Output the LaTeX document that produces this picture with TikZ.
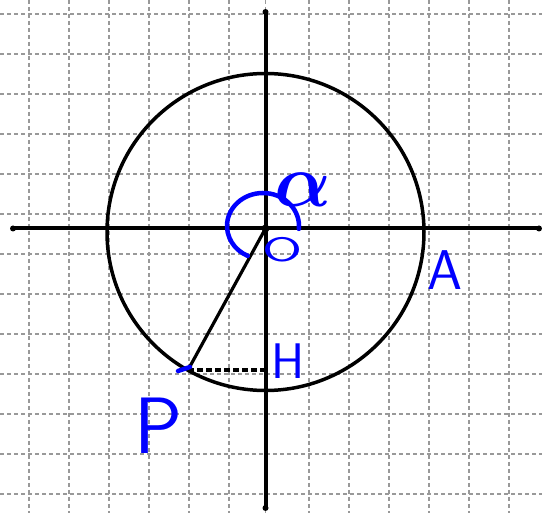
\documentclass[tikz,border=0pt]{standalone}
\usepackage{amsmath}
\begin{document}
\begin{tikzpicture}[x=1pt,y=-1pt,
    gridline/.style={gray!80, line width=1.2pt, dash pattern=on 4pt off 3pt},
    axisline/.style={line width=4pt},
    hand/.style={blue, inner sep=0pt}]
    \useasboundingbox (0,0) rectangle (542,513);
    % grid
    \foreach \x in {29,69,109,149,189,229,265.5,309,349,389,429,469,509}
        \draw[gridline] (\x,0) -- (\x,513);
    \foreach \y in {14,54,...,494}
        \draw[gridline] (0,\y) -- (542,\y);
    % points
    \coordinate (O) at (265.5,228.5);
    \coordinate (P) at (188,370);
    \coordinate (H) at (265.5,370);
    \coordinate (xl) at (13,228.5);
    \coordinate (xr) at (539,228.5);
    \coordinate (yt) at (265.5,12);
    \coordinate (yb) at (265.5,508);
    % axes
    \draw[axisline] (xl) -- (xr);
    \draw[axisline] (yt) -- (yb);
    \foreach \c in {xl,xr,yt,yb} \fill (\c) circle (3pt);
    \fill (O) circle (4pt);
    % circle
    \draw[line width=3.5pt] (265.5,232) circle [radius=158.5pt];
    % OP and PH
    \draw[line width=3.2pt] (O) -- (P);
    \draw[line width=3.2pt, dash pattern=on 6pt off 3pt] (P) -- (H);
    % angle
    \draw[blue, line width=4.5pt, line cap=round] (263,226) ++(-5:36pt and 33pt)
        arc[start angle=-5, end angle=245, x radius=36pt, y radius=33pt];
    \draw[blue, line width=4.5pt, line cap=round] (178,371) -- (190,367);
    % labels
    \node[hand] (alpha) at (303,190) {\scalebox{7.5}{$\boldsymbol{\alpha}$}};
    \node[hand, font=\sffamily\fontsize{34}{34}\selectfont] (Olab) at (283,250) {\scalebox{1.7}[1]{O}};
    \node[hand, font=\sffamily\fontsize{56}{56}\selectfont] (Alab) at (445,270) {A};
    \node[hand, font=\sffamily\fontsize{50}{50}\selectfont] (Hlab) at (288,361) {H};
    \node[hand, font=\sffamily\fontsize{80}{80}\selectfont] (Plab) at (158,426) {P};
\end{tikzpicture}
\end{document}
